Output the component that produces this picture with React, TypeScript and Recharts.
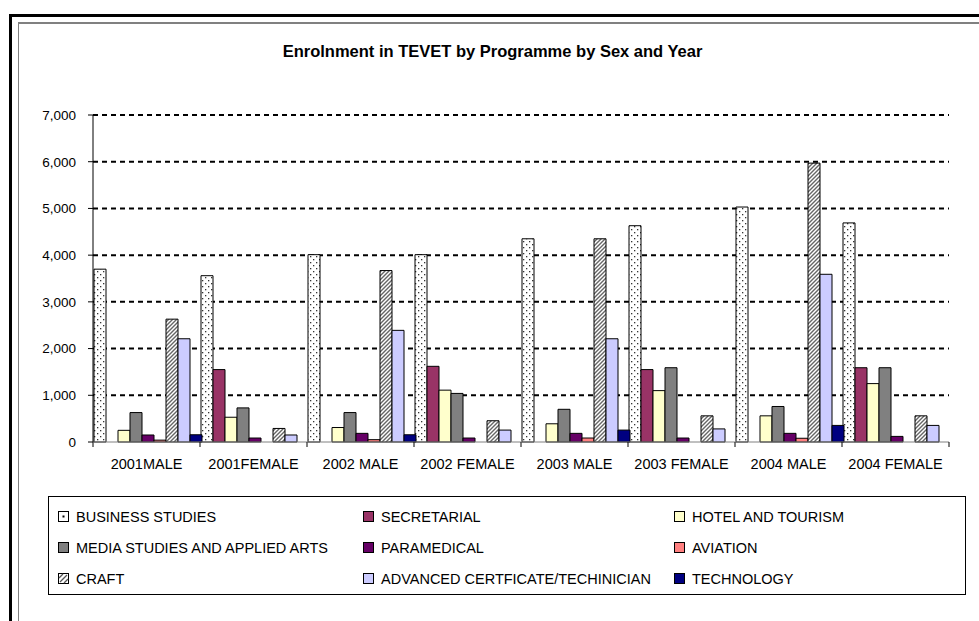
import { Bar, BarChart, CartesianGrid, XAxis, YAxis } from "recharts"

const categories = [
  "2001MALE",
  "2001FEMALE",
  "2002 MALE",
  "2002 FEMALE",
  "2003 MALE",
  "2003 FEMALE",
  "2004 MALE",
  "2004 FEMALE",
]

const businessStudies = [3700, 3560, 4010, 4010, 4350, 4630, 5030, 4690]
const secretarial = [0, 1550, 0, 1620, 0, 1550, 0, 1590]
const hotelAndTourism = [250, 530, 310, 1110, 390, 1100, 560, 1250]
const mediaStudies = [630, 730, 630, 1040, 700, 1590, 760, 1590]
const paramedical = [150, 85, 185, 85, 185, 85, 185, 120]
const aviation = [40, 0, 50, 0, 85, 0, 80, 0]
const craft = [2630, 290, 3670, 455, 4350, 560, 5970, 560]
const advanced = [2210, 150, 2390, 255, 2210, 280, 3590, 355]
const technology = [155, 0, 155, 0, 255, 0, 355, 0]

const yTicks = [0, 1000, 2000, 3000, 4000, 5000, 6000, 7000]

const series = [
  { key: "business", name: "BUSINESS STUDIES", values: businessStudies, fill: "url(#dots)" },
  { key: "secretarial", name: "SECRETARIAL", values: secretarial, fill: "#993366" },
  { key: "hotel", name: "HOTEL AND TOURISM", values: hotelAndTourism, fill: "#FFFFCC" },
  { key: "media", name: "MEDIA STUDIES AND APPLIED ARTS", values: mediaStudies, fill: "#808080" },
  { key: "paramedical", name: "PARAMEDICAL", values: paramedical, fill: "#660066" },
  { key: "aviation", name: "AVIATION", values: aviation, fill: "#FF8080" },
  { key: "craft", name: "CRAFT", values: craft, fill: "url(#hatch)" },
  { key: "advanced", name: "ADVANCED CERTFICATE/TECHINICIAN", values: advanced, fill: "#CCCCFF" },
  { key: "technology", name: "TECHNOLOGY", values: technology, fill: "#000080" },
]

const data = categories.map((cat, i) => {
  const row: Record<string, string | number> = { cat }
  series.forEach((s) => {
    row[s.key] = s.values[i]
  })
  return row
})

const FONT = "'Liberation Sans', Arial, sans-serif"
const PLOT_LEFT = 93
const PLOT_RIGHT = 949
const HALF_BAND = (PLOT_RIGHT - PLOT_LEFT) / categories.length / 2

// label in the middle, tick marks between categories like Excel
const XTick = (props: any) => {
  const { x, y, payload, index } = props
  return (
    <g>
      <line x1={x - HALF_BAND} x2={x - HALF_BAND} y1={y - 17} y2={y - 12} stroke="#000" />
      {index === categories.length - 1 && (
        <line x1={x + HALF_BAND} x2={x + HALF_BAND} y1={y - 17} y2={y - 12} stroke="#000" />
      )}
      <text x={x} y={y} dy="0.71em" textAnchor="middle" fontSize={14.5} fill="#000" fontFamily={FONT}>
        {payload.value}
      </text>
    </g>
  )
}

const LegendIcon = ({ s }: { s: (typeof series)[number] }) => {
  if (s.key === "business") {
    return (
      <svg width={11} height={11} style={{ display: "block" }}>
        <rect x={0.5} y={0.5} width={10} height={10} fill="#fff" stroke="#000" />
        <rect x={4.5} y={4.5} width={2} height={2} fill="#000" />
      </svg>
    )
  }
  if (s.key === "craft") {
    return (
      <svg width={11} height={11} style={{ display: "block" }}>
        <rect x={0.5} y={0.5} width={10} height={10} fill="#fff" stroke="#000" />
        <path d="M2,9 L9,2 M1,5 L5,1 M6,10 L10,6" stroke="#555" strokeWidth={1.3} />
      </svg>
    )
  }
  return (
    <svg width={11} height={11} style={{ display: "block" }}>
      <rect x={0.5} y={0.5} width={10} height={10} fill={s.fill} stroke="#000" />
    </svg>
  )
}

export default function App() {
  return (
    <div
      style={{
        position: "absolute",
        left: 0,
        top: 0,
        width: 979,
        height: 621,
        overflow: "hidden",
        background: "#fff",
        fontFamily: FONT,
      }}
    >
      {/* outer and inner frame, both run off the picture */}
      <div
        style={{
          position: "absolute",
          left: 9,
          top: 14,
          width: 1100,
          height: 800,
          border: "3px solid #000",
        }}
      />
      <div
        style={{
          position: "absolute",
          left: 18,
          top: 22,
          width: 1100,
          height: 800,
          borderLeft: "1px solid #808080",
          borderTop: "2px solid #808080",
        }}
      />

      <div
        style={{
          position: "absolute",
          left: 0,
          top: 42,
          width: 985,
          textAlign: "center",
          fontSize: 16.5,
          fontWeight: "bold",
          color: "#000",
        }}
      >
        Enrolnment in TEVET by Programme by Sex and Year
      </div>

      <div style={{ position: "absolute", left: 0, top: 0 }}>
        <BarChart
          width={979}
          height={621}
          data={data}
          margin={{ top: 115, right: 979 - PLOT_RIGHT, bottom: 139, left: PLOT_LEFT - 60 }}
          barGap={0}
          barCategoryGap={1}
        >
          <defs>
            <pattern id="dots" patternUnits="userSpaceOnUse" width={6} height={6}>
              <rect width={6} height={6} fill="#fff" />
              <rect x={1} y={1} width={1.3} height={1.3} fill="#333" />
              <rect x={4} y={4} width={1.3} height={1.3} fill="#333" />
            </pattern>
            <pattern id="hatch" patternUnits="userSpaceOnUse" width={4} height={4}>
              <rect width={4} height={4} fill="#fff" />
              <path d="M-1,1 L1,-1 M0,4 L4,0 M3,5 L5,3" stroke="#666" strokeWidth={1.4} />
            </pattern>
          </defs>
          <CartesianGrid
            vertical={false}
            horizontalValues={yTicks.filter((t) => t > 0)}
            stroke="#000"
            strokeWidth={2}
            strokeDasharray="5 4"
          />
          <XAxis
            dataKey="cat"
            height={40}
            interval={0}
            tickSize={5}
            tickMargin={12}
            tickLine={false}
            axisLine={{ stroke: "#808080" }}
            tick={<XTick />}
          />
          <YAxis
            width={60}
            domain={[0, 7000]}
            ticks={yTicks}
            interval={0}
            tickSize={5}
            tickMargin={12}
            axisLine={{ stroke: "#000" }}
            tickLine={{ stroke: "#000" }}
            tickFormatter={(v: number) => v.toLocaleString("en-US")}
            tick={{ fill: "#000", fontSize: 13.5, fontFamily: FONT }}
          />
          {series.map((s) => (
            <Bar
              key={s.key}
              dataKey={s.key}
              name={s.name}
              fill={s.fill}
              stroke="#000"
              strokeWidth={1}
              isAnimationActive={false}
            />
          ))}
        </BarChart>
      </div>

      {/* legend box */}
      <div
        style={{
          position: "absolute",
          left: 48,
          top: 496,
          width: 918,
          height: 99,
          border: "1px solid #000",
          boxSizing: "border-box",
          display: "grid",
          gridTemplateColumns: "305px 311px 1fr",
          gridAutoRows: "31px",
          paddingTop: 4,
          paddingLeft: 9,
          fontSize: 14.5,
          color: "#000",
        }}
      >
        {series.map((s) => (
          <div key={s.key} style={{ display: "flex", alignItems: "center", gap: 7, whiteSpace: "nowrap" }}>
            <LegendIcon s={s} />
            <span>{s.name}</span>
          </div>
        ))}
      </div>
    </div>
  )
}
